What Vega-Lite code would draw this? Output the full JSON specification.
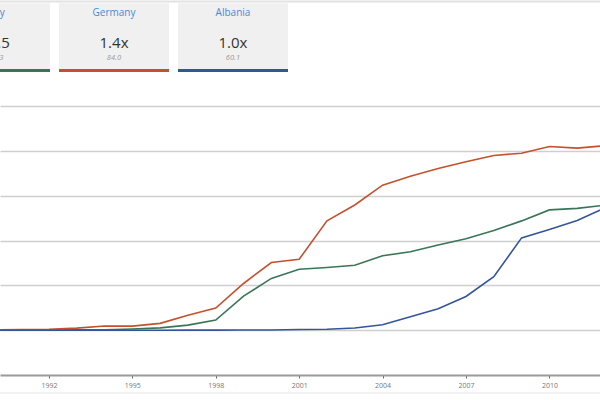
{
  "$schema": "https://vega.github.io/schema/vega-lite/v6.json",
  "width": 600,
  "height": 375,
  "autosize": "none",
  "padding": {"left": 0, "top": 0, "right": 0, "bottom": 25},
  "config": {"view": {"stroke": null}, "font": "Open Sans"},
  "datasets": {
    "series": [
      {"country": "Italy", "year": 1990, "value": 0.02},
      {"country": "Italy", "year": 1991, "value": 0.04},
      {"country": "Italy", "year": 1992, "value": 0.11},
      {"country": "Italy", "year": 1993, "value": 0.18},
      {"country": "Italy", "year": 1994, "value": 0.19},
      {"country": "Italy", "year": 1995, "value": 0.52},
      {"country": "Italy", "year": 1996, "value": 1.03},
      {"country": "Italy", "year": 1997, "value": 2.28},
      {"country": "Italy", "year": 1998, "value": 4.53},
      {"country": "Italy", "year": 1999, "value": 15.2},
      {"country": "Italy", "year": 2000, "value": 23.1},
      {"country": "Italy", "year": 2001, "value": 27.2},
      {"country": "Italy", "year": 2002, "value": 28.0},
      {"country": "Italy", "year": 2003, "value": 29.0},
      {"country": "Italy", "year": 2004, "value": 33.2},
      {"country": "Italy", "year": 2005, "value": 35.0},
      {"country": "Italy", "year": 2006, "value": 38.0},
      {"country": "Italy", "year": 2007, "value": 40.8},
      {"country": "Italy", "year": 2008, "value": 44.5},
      {"country": "Italy", "year": 2009, "value": 48.8},
      {"country": "Italy", "year": 2010, "value": 53.7},
      {"country": "Italy", "year": 2011, "value": 54.4},
      {"country": "Italy", "year": 2012, "value": 55.8},
      {"country": "Italy", "year": 2013, "value": 58.5},
      {"country": "Germany", "year": 1990, "value": 0.13},
      {"country": "Germany", "year": 1991, "value": 0.25},
      {"country": "Germany", "year": 1992, "value": 0.44},
      {"country": "Germany", "year": 1993, "value": 0.92},
      {"country": "Germany", "year": 1994, "value": 1.84},
      {"country": "Germany", "year": 1995, "value": 1.84},
      {"country": "Germany", "year": 1996, "value": 3.05},
      {"country": "Germany", "year": 1997, "value": 6.71},
      {"country": "Germany", "year": 1998, "value": 9.88},
      {"country": "Germany", "year": 1999, "value": 20.85},
      {"country": "Germany", "year": 2000, "value": 30.22},
      {"country": "Germany", "year": 2001, "value": 31.65},
      {"country": "Germany", "year": 2002, "value": 48.82},
      {"country": "Germany", "year": 2003, "value": 55.9},
      {"country": "Germany", "year": 2004, "value": 64.73},
      {"country": "Germany", "year": 2005, "value": 68.71},
      {"country": "Germany", "year": 2006, "value": 72.16},
      {"country": "Germany", "year": 2007, "value": 75.16},
      {"country": "Germany", "year": 2008, "value": 78.0},
      {"country": "Germany", "year": 2009, "value": 79.0},
      {"country": "Germany", "year": 2010, "value": 82.0},
      {"country": "Germany", "year": 2011, "value": 81.27},
      {"country": "Germany", "year": 2012, "value": 82.35},
      {"country": "Germany", "year": 2013, "value": 84.0},
      {"country": "Albania", "year": 1990, "value": 0.0},
      {"country": "Albania", "year": 1991, "value": 0.0},
      {"country": "Albania", "year": 1992, "value": 0.0},
      {"country": "Albania", "year": 1993, "value": 0.0},
      {"country": "Albania", "year": 1994, "value": 0.0},
      {"country": "Albania", "year": 1995, "value": 0.0},
      {"country": "Albania", "year": 1996, "value": 0.003},
      {"country": "Albania", "year": 1997, "value": 0.02},
      {"country": "Albania", "year": 1998, "value": 0.04},
      {"country": "Albania", "year": 1999, "value": 0.08},
      {"country": "Albania", "year": 2000, "value": 0.11},
      {"country": "Albania", "year": 2001, "value": 0.33},
      {"country": "Albania", "year": 2002, "value": 0.39},
      {"country": "Albania", "year": 2003, "value": 0.97},
      {"country": "Albania", "year": 2004, "value": 2.42},
      {"country": "Albania", "year": 2005, "value": 6.04},
      {"country": "Albania", "year": 2006, "value": 9.61},
      {"country": "Albania", "year": 2007, "value": 15.04},
      {"country": "Albania", "year": 2008, "value": 23.86},
      {"country": "Albania", "year": 2009, "value": 41.2},
      {"country": "Albania", "year": 2010, "value": 45.0},
      {"country": "Albania", "year": 2011, "value": 49.0},
      {"country": "Albania", "year": 2012, "value": 54.66},
      {"country": "Albania", "year": 2013, "value": 60.1}
    ],
    "cards": [
      {"country": "Italy", "big": "58.5", "small": "2013"},
      {"country": "Germany", "big": "1.4x", "small": "84.0"},
      {"country": "Albania", "big": "1.0x", "small": "60.1"}
    ]
  },
  "layer": [
    {
      "data": {"name": "series"},
      "mark": {"type": "line", "clip": true, "strokeWidth": 1.6},
      "encoding": {
        "x": {
          "field": "year", "type": "quantitative",
          "scale": {"domain": [1990.24, 2011.82], "nice": false, "zero": false},
          "axis": {
            "values": [1992, 1995, 1998, 2001, 2004, 2007, 2010],
            "format": "d", "title": null, "grid": false,
            "labelFontSize": 7, "labelColor": "#777", "labelPadding": 3,
            "tickSize": 3, "tickColor": "#666", "tickWidth": 1,
            "domainColor": "#9a9a9a", "domainWidth": 2
          }
        },
        "y": {
          "field": "value", "type": "quantitative",
          "scale": {"domain": [-20, 147.4], "nice": false, "zero": false},
          "axis": {
            "values": [0, 20, 40, 60, 80, 100],
            "title": null, "labels": false, "ticks": false, "domain": false,
            "grid": true, "gridColor": "#cfcfcf", "gridWidth": 1.5
          }
        },
        "color": {
          "field": "country", "type": "nominal",
          "scale": {"domain": ["Italy", "Germany", "Albania"], "range": ["#3a7558", "#c5502e", "#345599"]},
          "legend": null
        }
      }
    },
    {
      "data": {"values": [{}]},
      "layer": [
        {
          "mark": {"type": "rule", "clip": false, "strokeWidth": 2, "color": "#e2e2e2"},
          "encoding": {"y": {"datum": 146.7, "scale": {"domain": [-20, 147.4], "nice": false, "zero": false}, "axis": null}}
        },
        {
          "mark": {"type": "rule", "clip": false, "strokeWidth": 1.5, "color": "#ececec"},
          "encoding": {"y": {"datum": -28, "scale": {"domain": [-20, 147.4], "nice": false, "zero": false}, "axis": null}}
        }
      ]
    },
    {
      "data": {"name": "cards"},
      "encoding": {
        "x": {
          "field": "country", "type": "nominal",
          "scale": {"type": "band", "domain": ["Italy", "Germany", "Albania"], "range": [-60, 288], "paddingInner": 0.0756, "paddingOuter": 0},
          "axis": null
        }
      },
      "layer": [
        {
          "mark": {"type": "rect", "color": "#f0f0f0"},
          "encoding": {
            "y": {"datum": 146.0, "scale": {"domain": [-20, 147.4], "nice": false, "zero": false}, "axis": null},
            "y2": {"datum": 116.6}
          }
        },
        {
          "mark": {"type": "rect"},
          "encoding": {
            "y": {"datum": 116.6, "axis": null}, "y2": {"datum": 115.3},
            "color": {"field": "country", "type": "nominal", "legend": null}
          }
        },
        {
          "mark": {"type": "text", "fontSize": 10, "color": "#4a8ad0", "baseline": "middle"},
          "encoding": {"y": {"datum": 141.6, "axis": null}, "text": {"field": "country"}}
        },
        {
          "mark": {"type": "text", "fontSize": 15, "color": "#333333", "baseline": "middle"},
          "encoding": {"y": {"datum": 128.2, "axis": null}, "text": {"field": "big"}}
        },
        {
          "mark": {"type": "text", "fontSize": 7.5, "fontStyle": "italic", "color": "#9a9a9a", "baseline": "middle"},
          "encoding": {"y": {"datum": 121.5, "axis": null}, "text": {"field": "small"}}
        }
      ]
    }
  ],
  "resolve": {"scale": {"x": "independent", "y": "independent"}}
}
